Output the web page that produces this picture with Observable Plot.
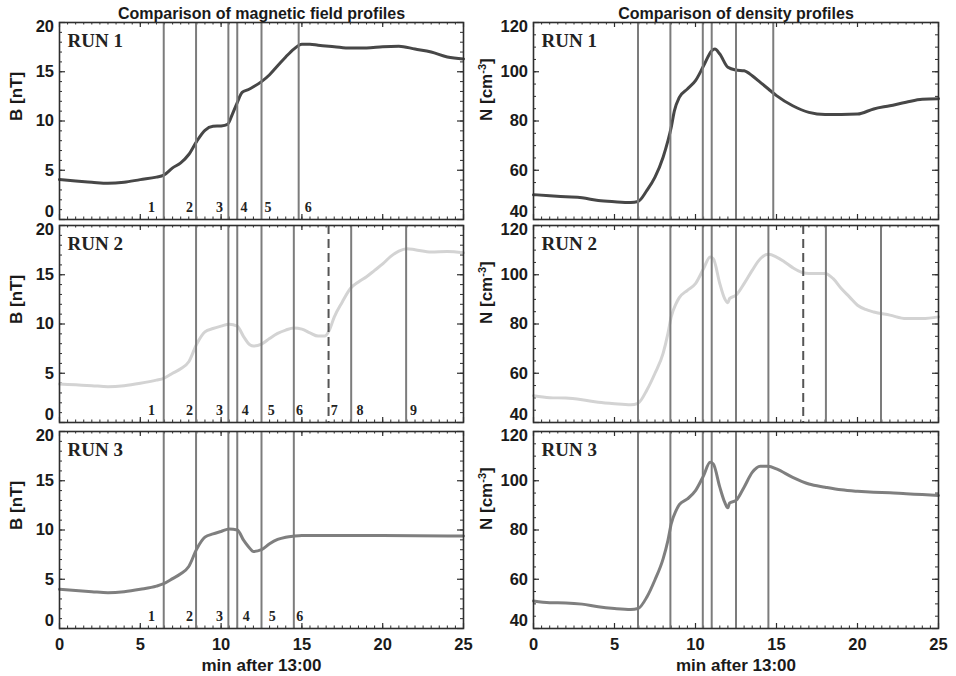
<!DOCTYPE html>
<html><head><meta charset="utf-8">
<script src="https://cdn.jsdelivr.net/npm/d3@7"></script>
<script src="https://cdn.jsdelivr.net/npm/@observablehq/plot@0.6"></script>
<style>
body{margin:0;background:#fff;}
#fig{position:relative;width:956px;height:676px;overflow:hidden;background:#fff;}
#fig > svg{position:absolute;}
</style></head><body><div id="fig"></div>
<script>
// ---------------- DATA ----------------
const titles = ["Comparison of magnetic field profiles", "Comparison of density profiles"];
const runNames = ["RUN 1", "RUN 2", "RUN 3"];
const xTickLabels = [0, 5, 10, 15, 20, 25];
const bTickLabels = [0, 5, 10, 15, 20];
const nTickLabels = [40, 60, 80, 100, 120];
const xTitle = "min after 13:00";
const bLabel = "B [nT]";
const nLabel = "N [cm-3]";

// Magnetic field B [nT]
const tB1 = [0,1,2,3,4,5,6,6.45,7,7.5,8,8.5,9,9.5,10,10.4,10.7,11,11.3,11.7,12,12.5,13,13.5,14,14.5,15,15.5,16,17,18,19,20,21,22,23,24,25];
const B1  = [4.05,3.9,3.78,3.67,3.78,4.05,4.3,4.5,5.24,5.75,6.6,7.96,9.05,9.46,9.5,9.66,10.7,11.87,12.9,13.2,13.47,14.0,14.7,15.6,16.5,17.3,17.8,17.8,17.7,17.55,17.4,17.4,17.55,17.6,17.3,17.0,16.5,16.3];
const tB2 = [0,1,2,3,4,5,6,6.45,7,7.5,8,8.5,9,9.5,10,10.5,11,11.4,11.8,12,12.5,13,13.5,14,14.5,15,15.5,16,16.4,16.7,17,17.5,18,18.5,19,19.5,20,20.5,21,21.5,22,23,24,25];
const B2  = [3.9,3.82,3.74,3.64,3.74,3.98,4.3,4.49,5.0,5.46,6.17,8.0,9.2,9.54,9.78,9.98,9.78,8.7,7.86,7.76,7.96,8.53,9.04,9.38,9.6,9.48,9.1,8.77,8.77,9.38,10.7,12.24,13.6,14.27,14.8,15.45,16.1,16.86,17.4,17.64,17.54,17.3,17.37,17.23];
const tB3 = [0,1,2,3,4,5,6,6.45,7,7.5,8,8.5,9,9.5,10,10.5,11,11.4,11.8,12,12.5,13,13.5,14,14.5,15,17,20,25];
const B3  = [3.98,3.85,3.74,3.64,3.74,3.98,4.3,4.55,5.06,5.56,6.3,8.1,9.27,9.6,9.85,10.1,10.0,8.94,8.1,7.82,8.0,8.6,9.04,9.27,9.38,9.44,9.44,9.44,9.38];

// Density N [cm^-3]
const tN1 = [0,1,2,3,4,5,6,6.45,7,7.5,8,8.3,8.5,8.7,9,9.5,10,10.5,11,11.2,11.5,12,12.5,13,13.5,14,14.5,15,16,17,18,19,20,21,22,23,24,25];
const N1  = [50.1,49.6,49.2,48.8,47.7,47.2,46.9,47.3,51.8,57.2,65.3,72,77.4,84.2,89.6,93,96.4,102.4,108.5,109.2,107.2,101.8,100.7,100.4,98.4,95.7,93,90.3,86.2,83.5,82.6,82.6,82.8,84.9,86.2,87.6,88.8,89];
const tN2 = [0,1,2,3,4,5,6,6.45,7,7.5,8,8.3,8.5,8.8,9,9.5,10,10.5,10.9,11.1,11.5,11.8,12,12.1,12.5,13,13.5,14,14.5,15,15.5,16,16.6,17,17.5,18,18.5,19,19.5,20,20.5,21,22,23,24,25];
const N2  = [50.9,50.1,49.9,49.2,48.2,47.6,47.2,47.8,53.2,60,68.1,76.2,82.9,88.3,90.7,93.7,96.4,102.5,107.2,106.5,96.4,90.3,88.6,90.3,91.7,96.4,101.8,106.5,108.3,107.2,105.2,102.9,100.9,100.5,100.5,100.5,98.4,94.4,91,87.6,85.9,84.9,83.6,82.2,82.2,82.9];
const tN3 = [0,1,2,3,4,5,6,6.45,7,7.5,8,8.3,8.5,8.8,9,9.5,10,10.5,10.9,11.1,11.5,11.8,12,12.1,12.5,13,13.5,14,14.5,15,16,17,18,19,20,21,22,23,24,25];
const N3  = [51.2,50.5,50.4,49.9,48.8,48.1,47.7,48.1,52.8,59.8,68.3,75.8,82.5,87.9,90.3,92.6,96,102.1,107.5,106.8,97.4,91.3,89,90.9,92,97.4,103.4,105.9,105.9,104.8,101.4,98.7,97.4,96.3,95.7,95.3,95.1,94.7,94.4,94];

// Boundary times (min after 13:00)
const linesRun1 = [6.45, 8.45, 10.45, 11.0, 12.5, 14.8];
const linesRun2 = [6.45, 8.45, 10.45, 11.0, 12.5, 14.5, 18.05, 21.45];
const dashedRun2 = [16.65];
const linesRun3 = [6.45, 8.45, 10.45, 11.0, 12.5, 14.5];
// Region numbers and their x positions (min)
const regionsRun1 = ["1","2","3","4","5","6"];
const regionXRun1 = [5.69, 8.04, 9.9, 11.42, 12.9, 15.4];
const regionsRun2 = ["1","2","3","4","5","6","7","8","9"];
const regionXRun2 = [5.69, 8.04, 9.9, 11.5, 13.1, 14.85, 17.0, 18.6, 21.9];
const regionsRun3 = ["1","2","3","4","5","6"];
const regionXRun3 = [5.69, 8.04, 9.9, 11.55, 13.16, 14.87];

// ---------------- LAYOUT ----------------
const SANS = "'Liberation Sans', Arial, Helvetica, sans-serif";
const SERIF = "'Liberation Serif', 'Times New Roman', serif";
const curveColors = ["#474747", "#d3d3d3", "#7f7f7f"];
const lineColor = "#7c7c7c";
const frameColor = "#2e2e2e";

const colSpec = [
  {svgLeft: 0, mL: 59, W: 404, domain: [0, 20], ticks: bTickLabels, minor: d3.range(0, 20.001, 1), label: bLabel, labelDx: -43,
   series: [[tB1, B1], [tB2, B2], [tB3, B3]]},
  {svgLeft: 476, mL: 57, W: 405, domain: [40, 120], ticks: nTickLabels, minor: d3.range(40, 120.001, 5), label: nLabel, labelDx: -47,
   series: [[tN1, N1], [tN2, N2], [tN3, N3]]}
];
const rowTops = [22, 225, 431];
const H = 197;
const lines = [linesRun1, linesRun2, linesRun3];
const dashed = [[], dashedRun2, []];
const regions = [[regionsRun1, regionXRun1], [regionsRun2, regionXRun2], [regionsRun3, regionXRun3]];
const xMinor = d3.range(0, 25.001, 0.5);

const fig = document.getElementById("fig");
const labelStyle = {fontFamily: SANS, fontWeight: "bold", fontSize: 17, fill: "#1a1a1a"};
const tickStyle = {fontFamily: SANS, fontWeight: "bold", fontSize: 16.5, fill: "#1a1a1a"};

colSpec.forEach((c, ci) => {
  rowTops.forEach((top, ri) => {
    const mT = ri === 0 ? 22 : 4;
    const mB = ri === 2 ? 676 - top - H : 4;
    const mR = 478 - c.mL - c.W;
    const [ts, vs] = c.series[ri];
    const data = ts.map((t, i) => ({t, v: vs[i]}));
    const W = c.W;
    const majX = 5, minX = 2.5, majY = 6, minY = 3;
    const lo = c.ticks[0], hi = c.ticks[c.ticks.length - 1];
    const midTicks = c.ticks.slice(1, -1);
    const marks = [
      // y ticks (inward, both sides)
      Plot.tickY(c.minor, {y: d => d, insetRight: W - minY, stroke: frameColor, strokeWidth: 1}),
      Plot.tickY(c.minor, {y: d => d, insetLeft: W - minY, stroke: frameColor, strokeWidth: 1}),
      Plot.tickY(c.ticks, {y: d => d, insetRight: W - majY, stroke: frameColor, strokeWidth: 1.2}),
      Plot.tickY(c.ticks, {y: d => d, insetLeft: W - majY, stroke: frameColor, strokeWidth: 1.2}),
      // x ticks (inward, top & bottom)
      Plot.tickX(xMinor, {x: d => d, insetTop: H - minX, stroke: frameColor, strokeWidth: 1}),
      Plot.tickX(xMinor, {x: d => d, insetBottom: H - minX, stroke: frameColor, strokeWidth: 1}),
      Plot.tickX(xTickLabels, {x: d => d, insetTop: H - majX, stroke: frameColor, strokeWidth: 1.2}),
      Plot.tickX(xTickLabels, {x: d => d, insetBottom: H - majX, stroke: frameColor, strokeWidth: 1.2}),
      // data curve
      Plot.line(data, {x: "t", y: "v", stroke: curveColors[ri], strokeWidth: 3, curve: "monotone-x"}),
      // boundaries
      Plot.ruleX(lines[ri], {x: d => d, stroke: lineColor, strokeWidth: 2}),
      Plot.ruleX(dashed[ri], {x: d => d, stroke: "#555", strokeWidth: 2, strokeDasharray: "9,5"}),
      Plot.frame({stroke: frameColor, strokeWidth: 1.6}),
      // run name
      Plot.text([runNames[ri]], {frameAnchor: "top-left", text: d => d, dx: 8, dy: 24, lineAnchor: "bottom", textAnchor: "start",
        fontFamily: SERIF, fontWeight: "bold", fontSize: 19, fill: "#222"}),
      // y tick labels (edge labels nudged inward like the original)
      Plot.text(midTicks, {frameAnchor: "left", y: d => d, text: d => String(d), dx: -5.5, textAnchor: "end", lineAnchor: "middle", ...tickStyle}),
      Plot.text([lo], {frameAnchor: "left", y: d => d, text: d => String(d), dx: -5.5, dy: -8, textAnchor: "end", lineAnchor: "middle", ...tickStyle}),
      Plot.text([hi], {frameAnchor: "left", y: d => d, text: d => String(d), dx: -5.5, dy: 4, textAnchor: "end", lineAnchor: "middle", ...tickStyle}),
      // y axis label
      Plot.text([c.label], {frameAnchor: "left", text: d => d, rotate: -90, dx: c.labelDx, lineAnchor: "middle", ...labelStyle})
    ];
    if (ci === 0) {
      const [names, xs] = regions[ri];
      marks.push(Plot.text(names, {x: (d, i) => xs[i], frameAnchor: "bottom", text: d => d, dy: -8, lineAnchor: "bottom",
        fontFamily: SERIF, fontWeight: "bold", fontSize: 14, fill: "#222"}));
    }
    if (ri === 0) {
      marks.push(Plot.text([titles[ci]], {frameAnchor: "top", text: d => d, dy: -3.5, lineAnchor: "bottom",
        fontFamily: SANS, fontWeight: "bold", fontSize: 16, fill: "#1a1a1a"}));
    }
    if (ri === 2) {
      marks.push(Plot.text(xTickLabels, {x: d => d, frameAnchor: "bottom", text: d => String(d), dy: 16, lineAnchor: "middle", ...tickStyle}));
      marks.push(Plot.text([xTitle], {frameAnchor: "bottom", text: d => d, dy: 37, lineAnchor: "middle", ...labelStyle}));
    }
    const svg = Plot.plot({
      width: 478, height: mT + H + mB,
      marginLeft: c.mL, marginRight: mR, marginTop: mT, marginBottom: mB,
      x: {domain: [0, 25], axis: null},
      y: {domain: c.domain, axis: null},
      style: {background: "transparent", overflow: "visible"},
      marks
    });
    svg.style.left = c.svgLeft + "px";
    svg.style.top = (top - mT) + "px";
    svg.querySelectorAll("text").forEach(el => {
      if (el.textContent === nLabel) {
        el.innerHTML = 'N [cm<tspan dy="-6" font-size="11">-3</tspan><tspan dy="6">]</tspan>';
      }
    });
    fig.appendChild(svg);
  });
});
</script></body></html>
